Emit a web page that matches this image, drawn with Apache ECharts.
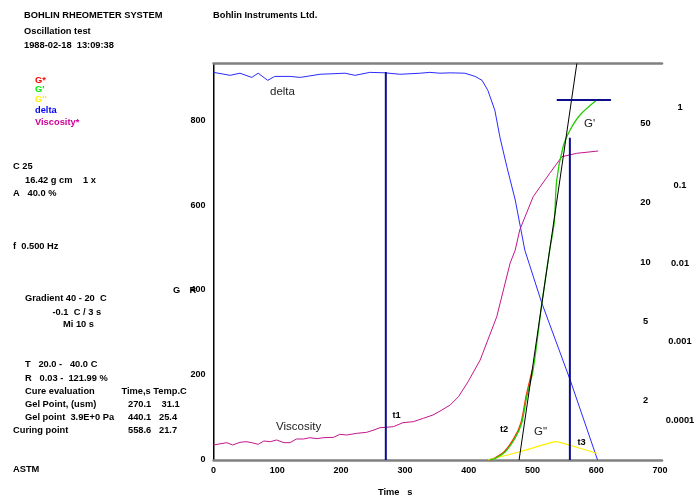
<!DOCTYPE html>
<html><head><meta charset="utf-8">
<script src="https://cdn.jsdelivr.net/npm/echarts@6/dist/echarts.min.js"></script>
<style>html,body{margin:0;padding:0;background:#fff}#c{width:696px;height:495px}</style>
</head><body><div id="c"></div>
<script>
// ---- data (time s, value) ----
const xTicks = [0,100,200,300,400,500,600,700];
const leftTicks = [0,200,400,600,800];
const innerRightTicks = [2,5,10,20,50];
const outerRightTicks = [0.0001,0.001,0.01,0.1,1];

const deltaData = [[0,91.1],[26,88.0],[41.5,90.2],[60,85.9],[70,90.2],[85,83.0],[96,86.9],[120,86.9],[136,85.9],[167,89.1],[206,90.2],[222,88.0],[245,91.1],[269,90.6],[292,89.1],[324,90.2],[339,91.1],[355,90.2],[371,90.6],[394,90.2],[410,86.9],[421,83.0],[430,73.9],[441,58.6],[449,42.8],[460,30.2],[473,20.6],[488,11.5],[514,6.3],[559,2.54],[602,1.0]];
const viscosityData = [[0,35.3],[21,40.8],[30,35.3],[41.5,41.6],[51,43.1],[60,40.8],[70,36.9],[79,44.7],[89,43.1],[99,47.1],[110.5,40.8],[120,40.8],[130,49.4],[141,49.4],[151,52.5],[162,50.2],[172,52.5],[188,53.3],[198,60.4],[209,58.8],[224,62.7],[240,65.1],[250,69.8],[261,76],[270,76.9],[282,78.4],[297,87.8],[308,89.4],[313,90.1],[329,98.1],[344,105.9],[358,117.6],[371,129.4],[384,148.9],[399,184.2],[418,235.3],[444,337.2],[465,463.5],[473,494.1],[480,541.2],[501,619.5],[527,674.6],[546,713.6],[569,721.6],[603,727.1]];
const gPrimeData = [[433,0],[441,3.5],[457,18.8],[472.6,51.1],[483,86.4],[491,148.9],[501,211.8],[514,360.7],[527,494.1],[534,557.6],[538,658.8],[548,737.2],[559,776.5],[574.5,811.8],[600.6,847.1]];
const gStarData = [[431,0],[440,4],[456,20],[471.5,52.5],[482,88],[490,150],[500,213]];
const gDoubleData = [[430,0],[480,19.5],[530,41.6],[537,43.1],[543,41.6],[600.6,15.8]];
const gelLine = [[270.1,0],[270.1,913]];
const cureLine = [[558.6,0],[558.6,758]];
const plateauLine = [[538,847],[623,847]];
const tangentLine = [[479,0],[569.5,933]];

const F = 'Liberation Sans, Arial, sans-serif';
const chart = echarts.init(document.getElementById('c'), null, {renderer:'canvas'});

function line(data, color, width, yIdx, z, smooth){
  return {type:'line', data:data, yAxisIndex:yIdx||0, showSymbol:false, symbol:'none',
    smooth:smooth||false, lineStyle:{color:color,width:width}, itemStyle:{color:color},
    z:z||2, animation:false, silent:true, clip:true};
}

const opt = {
  animation:false,
  grid:{left:213.5, right:34, top:63.5, bottom:35},
  xAxis:[
    {type:'value', position:'bottom', min:0, max:703, interval:100,
     axisLine:{show:true, lineStyle:{color:'#808080', width:2.5}}, axisTick:{show:false},
     splitLine:{show:false},
     axisLabel:{show:true, margin:6, fontFamily:F, fontSize:9, fontWeight:'bold', color:'#000', showMaxLabel:false,
       formatter: v => xTicks.indexOf(v) >= 0 ? String(v) : ''}},
    {type:'value', position:'top', min:0, max:703,
     axisLine:{show:true, lineStyle:{color:'#808080', width:2.5}}, axisTick:{show:false},
     splitLine:{show:false}, axisLabel:{show:false}}
  ],
  yAxis:[
    {type:'value', position:'left', min:0, max:933, interval:200,
     axisLine:{show:true, lineStyle:{color:'#555', width:1.5}}, axisTick:{show:false}, splitLine:{show:false},
     axisLabel:{margin:8, fontFamily:F, fontSize:9, fontWeight:'bold', color:'#000', showMaxLabel:false,
       formatter: v => leftTicks.indexOf(v) >= 0 ? String(v) : ''}},
    {type:'log', position:'right', min:1, max:101, logBase:10,
     axisLine:{show:true, lineStyle:{color:'#000', width:1}}, axisTick:{show:false}, splitLine:{show:false},
     axisLabel:{show:false}},
    {type:'log', position:'right', min:3.08e-5, max:3.6, logBase:10, show:false,
     axisLine:{show:false}, axisTick:{show:false}, splitLine:{show:false}, axisLabel:{show:false}}
  ],
  series:[
    line(deltaData, '#2a2aff', 1, 1, 3),
    line(viscosityData, '#c4168c', 1, 0, 3),
    line(gStarData, '#ff2a00', 1.3, 0, 4, 0.3),
    line(gPrimeData, '#22cc00', 1.3, 0, 5, 0.3),
    line(gDoubleData, '#ffee00', 1.2, 0, 4, 0.2),
    Object.assign(line(tangentLine, '#000', 1, 0, 6), {clip:false}),
    line(gelLine, '#0c0c8c', 2, 0, 7),
    line(cureLine, '#0c0c8c', 2, 0, 7),
    line(plateauLine, '#0c0c8c', 2, 0, 7)
  ]
};
chart.setOption(opt);

function txt(x, y, s, o){
  o = o || {};
  return {type:'text', x:x, y:y, z:100, silent:true, style:{text:s, fill:o.c||'#000',
    font:(o.w||'bold')+' '+(o.s||9.3)+'px '+F, textAlign:o.a||'left', textVerticalAlign:'middle'}};
}
const g = [];
// header + info panel
g.push(txt(24,15,'BOHLIN RHEOMETER SYSTEM'));
g.push(txt(213,15,'Bohlin Instruments Ltd.'));
g.push(txt(24,31,'Oscillation test'));
g.push(txt(24,45.5,'1988-02-18  13:09:38'));
g.push(txt(35,80,'G*',{c:'#ff0000'}));
g.push(txt(35,89.5,"G'",{c:'#00f000'}));
g.push(txt(35,99.5,"G''",{c:'#ffee00'}));
g.push(txt(35,110.5,'delta',{c:'#0000ff'}));
g.push(txt(35,122,'Viscosity*',{c:'#cc0099'}));
g.push(txt(13,166,'C 25'));
g.push(txt(25,180,'16.42 g cm    1 x'));
g.push(txt(13,193,'A   40.0 %'));
g.push(txt(13,246,'f  0.500 Hz'));
g.push(txt(25,298.5,'Gradient 40 - 20  C'));
g.push(txt(52.5,312,'-0.1  C / 3 s'));
g.push(txt(63,324.5,'Mi 10 s'));
g.push(txt(25,364.5,'T   20.0 -   40.0 C'));
g.push(txt(25,378,'R   0.03 -  121.99 %'));
g.push(txt(25,391,'Cure evaluation'));
g.push(txt(121.5,391,'Time,s Temp.C'));
g.push(txt(25,404,'Gel Point, (usm)'));
g.push(txt(128,404,'270.1    31.1'));
g.push(txt(25,417,'Gel point  3.9E+0 Pa'));
g.push(txt(128,417,'440.1   25.4'));
g.push(txt(13,430.5,'Curing point'));
g.push(txt(128,430.5,'558.6   21.7'));
g.push(txt(13,469.5,'ASTM'));
// axis titles
g.push(txt(173,290.5,'G'));
g.push(txt(189.5,290.5,'R'));
g.push(txt(378,492,'Time   s'));
// plot annotations
g.push(txt(270,91.5,'delta',{w:'normal',s:11.5,c:'#222'}));
g.push(txt(276,427,'Viscosity',{w:'normal',s:11.5,c:'#222'}));
g.push(txt(392.5,415.5,'t1'));
g.push(txt(500,429,'t2'));
g.push(txt(534,432,'G"',{w:'normal',s:11.5,c:'#222'}));
g.push(txt(577.5,442.5,'t3'));
g.push(txt(584,124,"G'",{w:'normal',s:11.5,c:'#222'}));
// right axis labels positioned through the axes' own scales
innerRightTicks.forEach(v => {
  const y = chart.convertToPixel({yAxisIndex:1}, v);
  g.push(txt(645.5, y, String(v), {a:'center'}));
});
outerRightTicks.forEach(v => {
  const y = chart.convertToPixel({yAxisIndex:2}, v);
  g.push(txt(680, y, String(v), {a:'center'}));
});
chart.setOption({graphic: g});
</script>
</body></html>
